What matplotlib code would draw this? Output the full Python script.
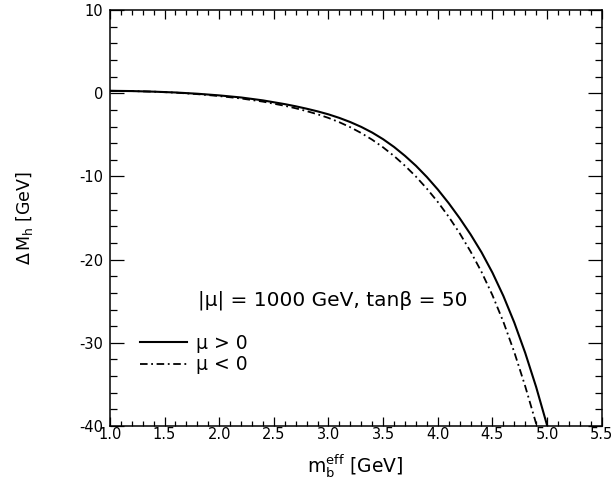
import matplotlib
matplotlib.use('Agg')
import matplotlib.pyplot as plt
from matplotlib.ticker import MultipleLocator

plt.rcParams['font.family'] = ['DejaVu Sans']
plt.rcParams['mathtext.fontset'] = 'dejavusans'
plt.rcParams['axes.unicode_minus'] = False

# m_b^eff [GeV] и Delta M_h [GeV]
mb_pos = [1.0, 1.2, 1.4, 1.6, 1.8, 2.0, 2.2, 2.4, 2.6, 2.7, 2.8, 2.9, 3.0, 3.1, 3.2, 3.3, 3.4, 3.5,
          3.6, 3.7, 3.8, 3.9, 4.0, 4.1, 4.2, 4.3, 4.4, 4.5, 4.6, 4.7, 4.8, 4.9, 5.0, 5.01]
dm_pos = [0.3, 0.27, 0.2, 0.1, -0.05, -0.25, -0.5, -0.85, -1.3, -1.56, -1.85, -2.17, -2.53, -2.96,
          -3.46, -4.04, -4.72, -5.52, -6.45, -7.52, -8.71, -10.06, -11.56, -13.21, -15.01, -16.96,
          -19.11, -21.56, -24.36, -27.56, -31.21, -35.31, -39.91, -40.4]

mb_neg = [1.0, 1.2, 1.4, 1.6, 1.8, 2.0, 2.2, 2.4, 2.6, 2.7, 2.8, 2.9, 3.0, 3.1, 3.2, 3.3, 3.4, 3.5,
          3.6, 3.7, 3.8, 3.9, 4.0, 4.1, 4.2, 4.3, 4.4, 4.5, 4.6, 4.7, 4.8, 4.9, 4.92]
dm_neg = [0.3, 0.27, 0.2, 0.08, -0.1, -0.33, -0.62, -1.0, -1.5, -1.8, -2.14, -2.52, -2.96, -3.48,
          -4.08, -4.78, -5.58, -6.5, -7.54, -8.71, -10.01, -11.46, -13.06, -14.84, -16.82, -19.02,
          -21.47, -24.27, -27.47, -31.12, -35.22, -39.72, -40.6]

header = '|μ| = 1000 GeV, tanβ = 50'
labels = ['μ > 0', 'μ < 0']

fig = plt.figure(figsize=(6.14, 4.83), dpi=100)
ax = fig.add_axes([0.179, 0.118, 0.801, 0.861])

ax.plot(mb_pos, dm_pos, color='black', lw=1.5, label=labels[0])
ax.plot(mb_neg, dm_neg, color='black', lw=1.3, dashes=(4.2, 2.0, 1.0, 2.0), label=labels[1])

ax.set_xlim(1.0, 5.5)
ax.set_ylim(-40, 10)
ax.xaxis.set_major_locator(MultipleLocator(0.5))
ax.xaxis.set_minor_locator(MultipleLocator(0.1))
ax.yaxis.set_major_locator(MultipleLocator(10))
ax.yaxis.set_minor_locator(MultipleLocator(2))
ax.xaxis.set_major_formatter(plt.FormatStrFormatter('%.1f'))

ax.tick_params(axis='x', which='both', direction='in', top=True, bottom=True, labelsize=10.5, pad=1)
ax.tick_params(axis='x', which='major', length=6.5, width=0.9)
ax.tick_params(axis='x', which='minor', length=3.5, width=0.9)
ax.tick_params(axis='y', which='both', direction='in', left=True, right=True, labelsize=10.5, pad=5)
ax.tick_params(axis='y', which='major', length=10, width=0.9)
ax.tick_params(axis='y', which='minor', length=5, width=0.9)
for s in ax.spines.values():
    s.set_linewidth(1.1)

ax.set_xlabel(r'$\mathrm{m_b^{eff}}$ [GeV]', fontsize=13.5)
ax.set_ylabel(r'$\Delta\,\mathrm{M_h}$ [GeV]', fontsize=12.5)
ax.xaxis.set_label_coords(0.498, -0.063)
ax.yaxis.set_label_coords(-0.153, 0.5)

ax.text(0.179, 0.303, header, transform=ax.transAxes, fontsize=14.5, va='center', ha='left')
ax.legend(loc='center left', bbox_to_anchor=(0.061, 0.173), frameon=False, fontsize=13.5,
          handlelength=2.5, handletextpad=0.5, labelspacing=0.15, borderpad=0, borderaxespad=0)

fig.savefig('out.png', dpi=100)
